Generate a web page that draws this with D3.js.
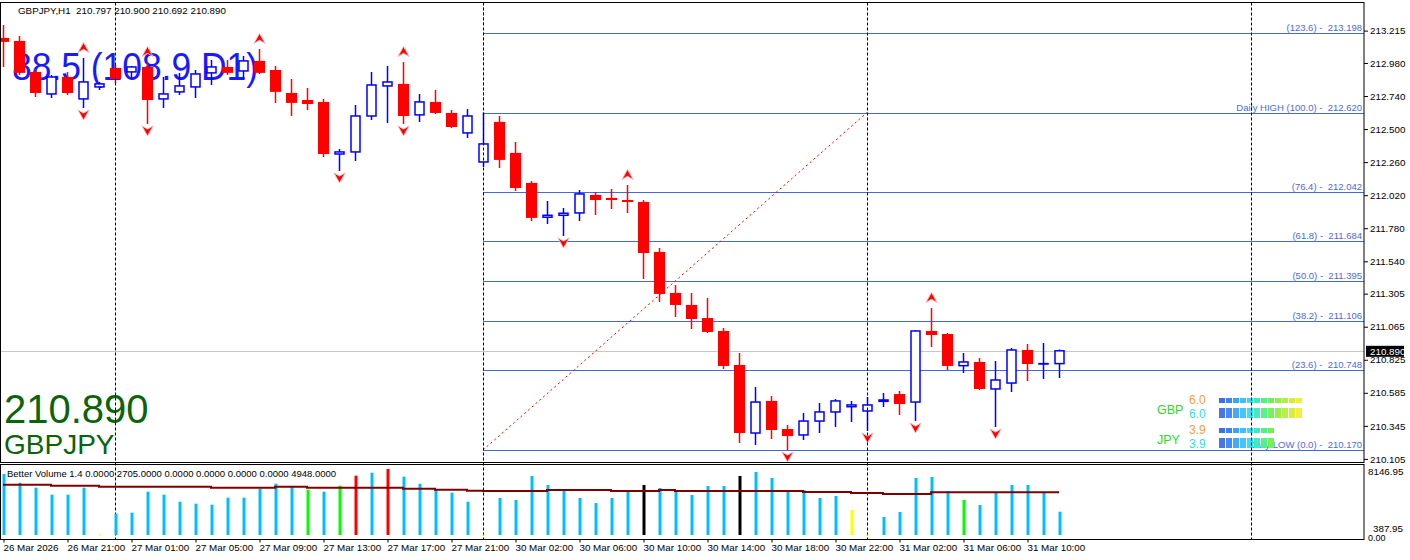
<!DOCTYPE html>
<html><head><meta charset="utf-8">
<script src="https://cdn.jsdelivr.net/npm/d3@7"></script>
<style>
body{margin:0;background:#fff;overflow:hidden}
svg{display:block}
text{font-family:"Liberation Sans",Arial,sans-serif}
</style></head>
<body><svg id="c" width="1410" height="560"></svg>
<script>
// ---------- DATA ----------
const opens  = [213.162,213.140,212.915,212.755,212.878,212.719,212.806,212.944,212.915,212.951,
212.719,212.770,212.806,212.908,212.951,212.922,212.995,212.929,212.762,212.711,
212.697,212.319,212.334,212.595,212.813,212.828,212.603,212.697,212.617,212.472,
212.261,212.552,212.327,212.109,211.860,211.874,211.891,212.022,212.000,211.985,
211.971,211.608,211.310,211.223,211.128,211.034,210.787,210.293,210.526,210.322,
210.279,210.380,210.446,210.484,210.453,210.523,210.576,210.518,211.034,211.012,
210.782,210.809,210.613,210.656,210.896,210.794,210.797];
const highs  = [213.256,213.176,212.937,212.893,212.915,213.016,212.842,212.966,212.958,212.987,
212.878,212.908,212.929,213.002,213.002,213.031,213.082,212.958,212.864,212.799,
212.719,212.356,212.675,212.915,212.958,212.987,212.755,212.784,212.639,212.646,
212.620,212.595,212.406,212.123,211.978,211.927,212.058,212.043,212.065,212.094,
211.985,211.637,211.368,211.310,211.274,211.056,210.874,210.627,210.562,210.351,
210.438,210.511,210.540,210.526,210.555,210.584,210.598,211.041,211.201,211.019,
210.874,210.838,210.816,210.910,210.940,210.947,210.900];
const lows   = [212.951,212.893,212.733,212.726,212.748,212.653,212.784,212.835,212.871,212.537,
212.653,212.748,212.726,212.820,212.893,212.864,212.900,212.690,212.595,212.639,
212.298,212.196,212.268,212.566,212.544,212.537,212.552,212.610,212.508,212.435,
212.225,212.218,212.051,211.833,211.811,211.724,211.833,211.876,211.920,211.891,
211.412,211.245,211.136,211.048,211.019,210.758,210.221,210.206,210.250,210.170,
210.242,210.293,210.337,210.373,210.308,210.482,210.424,210.380,210.918,210.751,
210.729,210.605,210.337,210.591,210.671,210.685,210.692];
const closes = [213.133,212.908,212.762,212.878,212.762,212.842,212.828,212.864,212.951,212.711,
212.755,212.813,212.900,212.951,212.908,212.995,212.908,212.770,212.690,212.682,
212.319,212.334,212.595,212.820,212.842,212.595,212.697,212.617,212.515,212.595,
212.392,212.276,212.072,211.855,211.874,211.889,212.029,211.985,211.985,211.974,
211.600,211.303,211.223,211.121,211.027,210.780,210.293,210.518,210.315,210.271,
210.380,210.446,210.526,210.497,210.497,210.533,210.504,211.034,211.005,210.780,
210.809,210.613,210.678,210.896,210.794,210.797,210.890];

const volumes = [7082,6072,5492,4679,4679,5492,60,2473,2589,5027,
4679,3866,3634,3518,4331,4331,5376,5956,5608,5260,
5027,5724,6885,7233,7663,6769,5956,5260,4911,3866,
60,4296,4064,6850,5805,5109,4296,3715,4296,4992,
5805,5457,5109,4644,5689,5689,6850,7315,6618,4992,
5225,4296,4528,2903,60,2090,2670,6618,6734,5109,
4064,3483,4876,5805,5805,4876,2705];
// b=blue, y=yellow, g=green, r=red, k=black  (10 bars per group)
const volTypes = ("bbbbbbybbb" + "bbbbbbbbbg" + "bgrbrbbbbb" + "ybbbbbbbbb" +
                  "kbbbbbkbbb" + "bbbyybbbbb" + "gbbbbbb").split("");
const volMA = [5840,5840,5840,5724,5724,5724,5608,5608,5608,5608,
5608,5608,5608,5492,5492,5492,5492,5608,5608,5492,
5492,5492,5492,5492,5492,5376,5376,5260,5260,5130,
5109,5109,5109,5109,5225,5225,5225,5225,5109,5109,
5109,5225,5109,5109,5109,5109,5109,5109,5109,5109,
4992,4992,4992,4876,4876,4760,4760,4760,4948,4948,
4948,4948,4948,4948,4948,4948,4948];

const fractalUp   = [5, 9, 16, 25, 39, 58];
const fractalDown = [5, 9, 21, 25, 35, 49, 54, 57, 62];

const priceTicks = [213.215,212.980,212.740,212.500,212.260,212.020,211.780,211.540,211.305,211.065,210.825,210.585,210.345,210.105];
const timeTickBars = [0,4,8,12,16,20,24,28,32,36,40,44,48,52,56,60,64];
const timeLabels = ["26 Mar 2026","26 Mar 21:00","27 Mar 01:00","27 Mar 05:00","27 Mar 09:00","27 Mar 13:00","27 Mar 17:00","27 Mar 21:00",
 "30 Mar 02:00","30 Mar 06:00","30 Mar 10:00","30 Mar 14:00","30 Mar 18:00","30 Mar 22:00","31 Mar 02:00","31 Mar 06:00","31 Mar 10:00"];
const daySeparatorBars = [7, 30, 54, 78];

const fibPrices = [210.170,210.748,211.106,211.395,211.684,212.042,212.620,213.198];
const fibLabels = ["Daily LOW (0.0) -  210.170","(23.6) -  210.748","(38.2) -  211.106","(50.0) -  211.395",
 "(61.8) -  211.684","(76.4) -  212.042","Daily HIGH (100.0) -  212.620","(123.6) -  213.198"];
const fibStartBar = 30, fibEndBar = 54;

const currencies = ["GBP","JPY"];
const strengthA = [6.0, 3.9];   // orange values
const strengthB = [6.0, 3.9];   // cyan values
const meterColors = ["#3c6ee6","#3c84f2","#3ea2f8","#38c2fc","#32dcf2","#3ceab8","#4ef088","#70f050","#92f040","#b4f03a","#d4ee34","#f2ee32"];

const lastPrice = 210.890;
const volMax = 8146.95;
const volMinLabel = 387.95;

// ---------- SCALES ----------
const svg = d3.select("#c");
const RIGHT = 1364;
const MAIN_TOP = 2.5, MAIN_BOT = 462.5, VOL_TOP = 464.5, VOL_BOT = 539.5;
const x = d3.scaleLinear().domain([0, 1]).range([3, 19]);
const y = d3.scaleLinear().domain([210.079, 213.419]).range([MAIN_BOT, MAIN_TOP]);
const yv = d3.scaleLinear().domain([0, volMax]).range([535, 464.8]);

svg.append("defs").append("clipPath").attr("id","mainClip")
  .append("rect").attr("x",0).attr("y",MAIN_TOP).attr("width",RIGHT).attr("height",MAIN_BOT-MAIN_TOP);
svg.select("defs").append("clipPath").attr("id","volClip")
  .append("rect").attr("x",0).attr("y",VOL_TOP).attr("width",RIGHT).attr("height",VOL_BOT-VOL_TOP);

const main = svg.append("g").attr("clip-path","url(#mainClip)");

// big background texts
main.append("text").attr("x",12).attr("y",80).attr("font-size",38).attr("fill","#1a1aff")
  .attr("textLength",246).attr("lengthAdjust","spacingAndGlyphs").text("88.5 (108.9 D1)");
main.append("text").attr("x",4).attr("y",423).attr("font-size",40).attr("fill","#0a640a").text(lastPrice.toFixed(3));
main.append("text").attr("x",4).attr("y",454).attr("font-size",28).attr("fill","#0a640a").text("GBPJPY");

// current price line
main.append("line").attr("x1",0).attr("x2",RIGHT).attr("y1",Math.round(y(lastPrice))+0.5).attr("y2",Math.round(y(lastPrice))+0.5)
  .attr("stroke","#c8c8c8").attr("stroke-width",1);

// fib levels
const fibG = main.append("g");
fibPrices.forEach((p,i)=>{
  const yy = Math.round(y(p))+0.5;
  fibG.append("line").attr("x1",x(fibStartBar)).attr("x2",RIGHT).attr("y1",yy).attr("y2",yy)
    .attr("stroke","#4169e1").attr("stroke-width",1.2);
  fibG.append("text").attr("x",RIGHT-2).attr("y",yy-2.5).attr("text-anchor","end")
    .attr("font-size",9.5).attr("fill","#5068dc").style("white-space","pre").text(fibLabels[i]);
});

// separators
daySeparatorBars.forEach(b=>{
  svg.append("line").attr("x1",Math.round(x(b))+0.5).attr("x2",Math.round(x(b))+0.5)
    .attr("y1",MAIN_TOP).attr("y2",VOL_BOT).attr("stroke","#000").attr("stroke-width",1)
    .attr("stroke-dasharray","3,2");
});
main.append("line").attr("x1",Math.round(x(fibStartBar))+0.5).attr("x2",Math.round(x(fibStartBar))+0.5)
  .attr("y1",MAIN_TOP).attr("y2",y(fibPrices[6])).attr("stroke","#ff0000").attr("stroke-dasharray","2,3");

// fib diagonal
main.append("line").attr("x1",x(fibStartBar)).attr("y1",y(fibPrices[0])).attr("x2",x(fibEndBar)).attr("y2",y(fibPrices[6]))
  .attr("stroke","#ff0000").attr("stroke-width",1).attr("stroke-dasharray","2,3");

// candles
const idx = d3.range(opens.length);
const cg = main.append("g");
idx.forEach(i=>{
  const cx = x(i);
  const bull = closes[i] >= opens[i];
  const col = bull ? "#0000ff" : "#ff0000";
  cg.append("line").attr("x1",cx+0.5).attr("x2",cx+0.5).attr("y1",y(highs[i])).attr("y2",y(lows[i]))
    .attr("stroke",col).attr("stroke-width",1.5);
  const top = y(Math.max(opens[i],closes[i])), bot = y(Math.min(opens[i],closes[i]));
  if (bull) {
    cg.append("rect").attr("x",cx-4).attr("y",top).attr("width",9).attr("height",Math.max(0.01,bot-top))
      .attr("fill","#fff").attr("stroke",col).attr("stroke-width",1.5);
  } else {
    const h = Math.max(2, bot-top);
    cg.append("rect").attr("x",cx-5).attr("y",top).attr("width",11).attr("height",h).attr("fill",col);
  }
});

// fractals
fractalUp.forEach(i=>{
  main.append("path").attr("transform",`translate(${x(i)+0.5},${y(highs[i])-10})`)
    .attr("d","M0,-5.5L5.5,4.5L0,1.2L-5.5,4.5Z").attr("fill","#ff0000").attr("stroke","#ffb4b4").attr("stroke-width",0.9);
});
fractalDown.forEach(i=>{
  main.append("path").attr("transform",`translate(${x(i)+0.5},${y(lows[i])+6.5})`)
    .attr("d","M0,5.5L5.5,-4.5L0,-1.2L-5.5,-4.5Z").attr("fill","#ff0000").attr("stroke","#ffb4b4").attr("stroke-width",0.9);
});

// strength meter
const mx = d3.scaleLinear().domain([0,1]).range([1219,1226]);
currencies.forEach((c,ci)=>{
  const base = 398 + ci*30;
  main.append("text").attr("x",1157).attr("y",base+16).attr("font-size",12.5).attr("fill","#2ed82e").text(c);
  main.append("text").attr("x",1189).attr("y",base+6).attr("font-size",12).attr("fill","#f5a032").text(strengthA[ci].toFixed(1));
  main.append("text").attr("x",1189).attr("y",base+19.5).attr("font-size",12).attr("fill","#33dddd").text(strengthB[ci].toFixed(1));
  d3.range(Math.round(strengthA[ci]*2)).forEach(k=>{
    main.append("rect").attr("x",mx(k)).attr("y",base).attr("width",6).attr("height",5).attr("fill",meterColors[k]);
  });
  d3.range(Math.round(strengthB[ci]*2)).forEach(k=>{
    main.append("rect").attr("x",mx(k)).attr("y",base+10).attr("width",6).attr("height",10).attr("fill",meterColors[k]).attr("opacity",0.95);
  });
});

// header
svg.append("text").attr("x",18).attr("y",14).attr("font-size",9.8).attr("fill","#000").style("white-space","pre")
  .text("GBPJPY,H1  210.797 210.900 210.692 210.890");

// ---------- VOLUME PANEL ----------
const vol = svg.append("g").attr("clip-path","url(#volClip)");
const volColor = {b:"#00bfff", y:"#ffff00", g:"#00ff00", r:"#ff0000", k:"#000000"};
idx.forEach(i=>{
  const top = yv(volumes[i]);
  vol.append("rect").attr("x",x(i)-0.5).attr("y",top).attr("width",3).attr("height",Math.max(1,yv(0)-top))
    .attr("fill",volColor[volTypes[i]]);
});
vol.append("path").datum(idx).attr("fill","none").attr("stroke","#800000").attr("stroke-width",2)
  .attr("d", d3.line().x(i=>x(i)).y(i=>yv(volMA[i])).curve(d3.curveStepAfter));
svg.append("text").attr("x",7).attr("y",477).attr("font-size",9.5).attr("fill","#000")
  .text("Better Volume 1.4 0.0000 2705.0000 0.0000 0.0000 0.0000 0.0000 4948.0000");

// frames
svg.append("rect").attr("x",0.5).attr("y",MAIN_TOP).attr("width",RIGHT-0.5).attr("height",MAIN_BOT-MAIN_TOP)
  .attr("fill","none").attr("stroke","#000");
svg.append("rect").attr("x",0.5).attr("y",VOL_TOP).attr("width",RIGHT-0.5).attr("height",VOL_BOT-VOL_TOP)
  .attr("fill","none").attr("stroke","#000");

// ---------- AXES ----------
const ya = svg.append("g").attr("transform",`translate(${RIGHT},0)`)
  .call(d3.axisRight(y).tickValues(priceTicks).tickSize(4).tickPadding(2).tickFormat(d3.format(".3f")));
ya.select(".domain").remove();
ya.selectAll("text").attr("font-size",9.8).attr("font-family","Liberation Sans, Arial, sans-serif").attr("fill","#000");
ya.selectAll("line").attr("stroke","#000");

// last price tag
svg.append("rect").attr("x",RIGHT+2).attr("y",y(lastPrice)-5).attr("width",38).attr("height",11).attr("fill","#000");
svg.append("text").attr("x",RIGHT+6).attr("y",y(lastPrice)+4).attr("font-size",9.8).attr("fill","#fff").text(lastPrice.toFixed(3));

// volume axis labels
svg.append("text").attr("x",RIGHT+4).attr("y",475).attr("font-size",9.8).attr("fill","#000").text(volMax.toFixed(2));
svg.append("text").attr("x",RIGHT+9).attr("y",532).attr("font-size",9.8).attr("fill","#000").text(volMinLabel.toFixed(2));
svg.append("text").attr("x",RIGHT+4).attr("y",541).attr("font-size",9).attr("fill","#000").text("0.00");

const xa = svg.append("g").attr("transform",`translate(0,${VOL_BOT})`)
  .call(d3.axisBottom(x).tickValues(timeTickBars).tickSize(3).tickFormat((d,i)=>timeLabels[i]));
xa.select(".domain").remove();
xa.selectAll("line").attr("stroke","#000").attr("transform","translate(0.5,0)");
xa.selectAll("text").attr("text-anchor","start").attr("y",5).attr("font-size",9.8)
  .attr("font-family","Liberation Sans, Arial, sans-serif").attr("fill","#000");
</script>
</body></html>
